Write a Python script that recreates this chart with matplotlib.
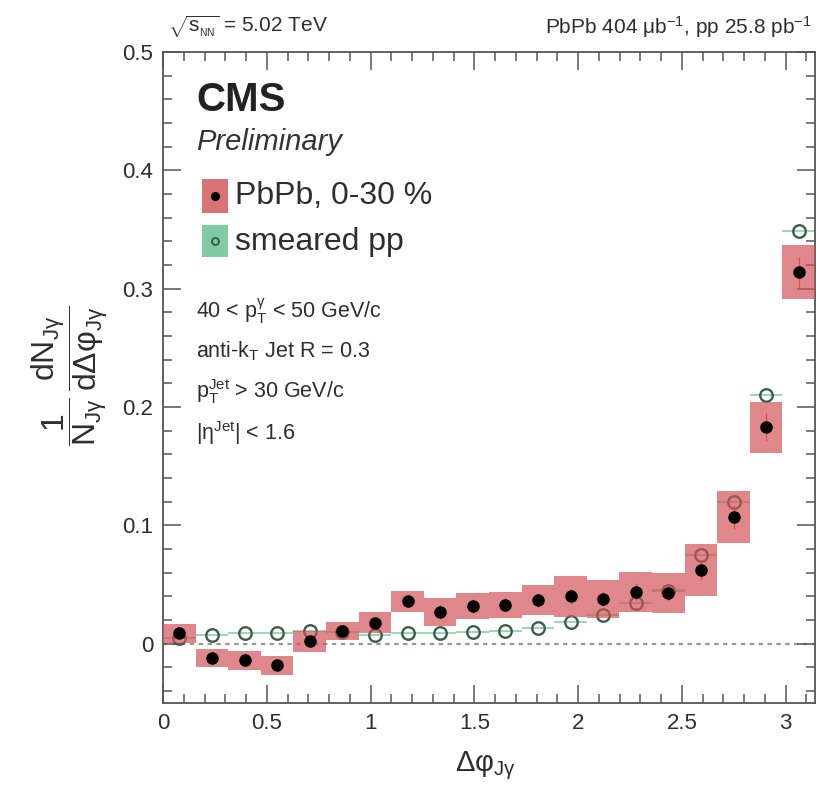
import numpy as np
import matplotlib
matplotlib.use('Agg')
import matplotlib.pyplot as plt
from matplotlib.patches import Rectangle
from matplotlib.ticker import MultipleLocator, FuncFormatter

plt.rcParams['font.family'] = ['Liberation Sans', 'DejaVu Sans']
plt.rcParams['mathtext.fontset'] = 'custom'
plt.rcParams['mathtext.rm'] = 'Liberation Sans'
plt.rcParams['mathtext.it'] = 'Liberation Sans:italic'
plt.rcParams['mathtext.bf'] = 'Liberation Sans:bold'

# 20 bins in delta phi, 0..pi
n_bins = 20

# PbPb 0-30 %
pbpb = [0.009, -0.012, -0.014, -0.018, 0.002, 0.011, 0.018, 0.036, 0.027, 0.032,
        0.033, 0.037, 0.040, 0.038, 0.044, 0.043, 0.062, 0.107, 0.183, 0.314]
pbpb_sys = [0.008, 0.0077, 0.008, 0.008, 0.0085, 0.0078, 0.0085, 0.009, 0.012, 0.011,
            0.011, 0.0125, 0.017, 0.016, 0.017, 0.017, 0.022, 0.022, 0.0215, 0.023]
pbpb_stat = [0.004, 0.004, 0.004, 0.004, 0.004, 0.004, 0.004, 0.005, 0.006, 0.006,
             0.006, 0.006, 0.006, 0.006, 0.007, 0.007, 0.008, 0.010, 0.012, 0.013]

# smeared pp
pp = [0.005, 0.0076, 0.009, 0.009, 0.011, 0.010, 0.0076, 0.009, 0.009, 0.010,
      0.011, 0.0135, 0.0186, 0.0245, 0.0345, 0.045, 0.075, 0.120, 0.210, 0.349]
pp_sys = [0.001] * n_bins

red = (0.82, 0.31, 0.33)
green = '#7fcca4'
txt = '#2e2e2e'

edges = np.linspace(0, np.pi, n_bins + 1)
centers = 0.5 * (edges[:-1] + edges[1:])
width = edges[1] - edges[0]

fig = plt.figure(figsize=(8.16, 7.98), dpi=100)
ax = fig.add_axes([163/816, 95/798, 652/816, 651/798])

ax.axhline(0, color='#999999', lw=1.6, ls=(0, (2, 2)), zorder=1)

# pp: thin green band + open circles
for i in range(n_bins):
    ax.add_patch(Rectangle((edges[i], pp[i] - pp_sys[i]), width, 2 * pp_sys[i],
                           facecolor='#9ad8b8', edgecolor='none', zorder=2))
ax.plot(centers, pp, 'o', ms=9, mfc='none', mec='#3d5c4c', mew=1.7, zorder=3)

# PbPb: red systematic boxes, stat bars, black dots
for i in range(n_bins):
    ax.add_patch(Rectangle((edges[i], pbpb[i] - pbpb_sys[i]), width, 2 * pbpb_sys[i],
                           facecolor=red, alpha=0.68, edgecolor='none', zorder=4))
ax.errorbar(centers, pbpb, yerr=pbpb_stat, fmt='none', ecolor='#e04848',
            elinewidth=0.8, capsize=0, zorder=5)
ax.plot(centers, pbpb, 'o', ms=8, color='black', zorder=6)

ax.set_xlim(0, np.pi)
ax.set_ylim(-0.05, 0.5)
ax.xaxis.set_major_locator(MultipleLocator(0.5))
ax.xaxis.set_minor_locator(MultipleLocator(0.1))
ax.yaxis.set_major_locator(MultipleLocator(0.1))
ax.yaxis.set_minor_locator(MultipleLocator(0.02))
fmt = FuncFormatter(lambda v, p: '%g' % round(v, 3))
ax.xaxis.set_major_formatter(fmt)
ax.yaxis.set_major_formatter(fmt)
ax.tick_params(which='both', direction='in', top=True, right=True,
               colors='#555555', labelcolor=txt, labelsize=16, width=1.1)
ax.tick_params(which='major', length=13, pad=7)
ax.tick_params(which='minor', length=6.5)
for s in ax.spines.values():
    s.set_color('#555555')
    s.set_linewidth(1.3)

# axis titles
fig.text(485/816, 1 - 766/798, r'$\Delta\mathrm{\varphi_{J\gamma}}$',
         ha='center', va='center', fontsize=21, color=txt)
fig.text(70/816, 1 - 376/798,
         r'$\dfrac{1}{\mathrm{N_{J\gamma}}}\,\dfrac{\mathrm{dN_{J\gamma}}}{\mathrm{d\Delta\varphi_{J\gamma}}}$',
         ha='center', va='center', rotation=90, fontsize=23, color=txt)

# header
fig.text(168/816, 1 - 27/798, r'$\sqrt{\mathrm{s_{_{NN}}}}$ = 5.02 TeV',
         ha='left', va='center', fontsize=15, color=txt)
fig.text(812/816, 1 - 27/798, r'PbPb 404 $\mathrm{\mu b^{-1}}$, pp 25.8 $\mathrm{pb^{-1}}$',
         ha='right', va='center', fontsize=15, color=txt)

ax.text(0.0506, 0.926, 'CMS', transform=ax.transAxes, fontsize=29,
        fontweight='bold', color='#222222', va='center', ha='left')
ax.text(0.0506, 0.862, 'Preliminary', transform=ax.transAxes, fontsize=21,
        style='italic', color='#333333', va='center', ha='left')

# legend
ax.add_patch(Rectangle((0.0598, 0.753), 0.040, 0.052, transform=ax.transAxes,
                       facecolor=red, alpha=0.8, edgecolor='none', zorder=7))
ax.plot([0.0798], [0.779], 'o', ms=5.5, color='black', transform=ax.transAxes, zorder=8)
ax.text(0.110, 0.779, 'PbPb, 0-30 %', transform=ax.transAxes, fontsize=23,
        color=txt, va='center', ha='left')
ax.add_patch(Rectangle((0.0598, 0.685), 0.040, 0.049, transform=ax.transAxes,
                       facecolor=green, edgecolor='none', zorder=7))
ax.plot([0.0798], [0.710], 'o', ms=5, mfc='none', mec='#3d5c4c', mew=1.4,
        transform=ax.transAxes, zorder=8)
ax.text(0.110, 0.708, 'smeared pp', transform=ax.transAxes, fontsize=23,
        color=txt, va='center', ha='left')

info = [r'40 < $\mathrm{p_{T}^{\gamma}}$ < 50 GeV/c',
        r'anti-$\mathrm{k_{T}}$ Jet R = 0.3',
        r'$\mathrm{p_{T}^{Jet}}$ > 30 GeV/c',
        r'|$\mathrm{\eta^{Jet}}$| < 1.6']
info_y = [0.602, 0.541, 0.478, 0.415]
for s, yy in zip(info, info_y):
    ax.text(0.0506, yy, s, transform=ax.transAxes, fontsize=15.5,
            color=txt, va='center', ha='left')

fig.savefig('out.png', dpi=100)
